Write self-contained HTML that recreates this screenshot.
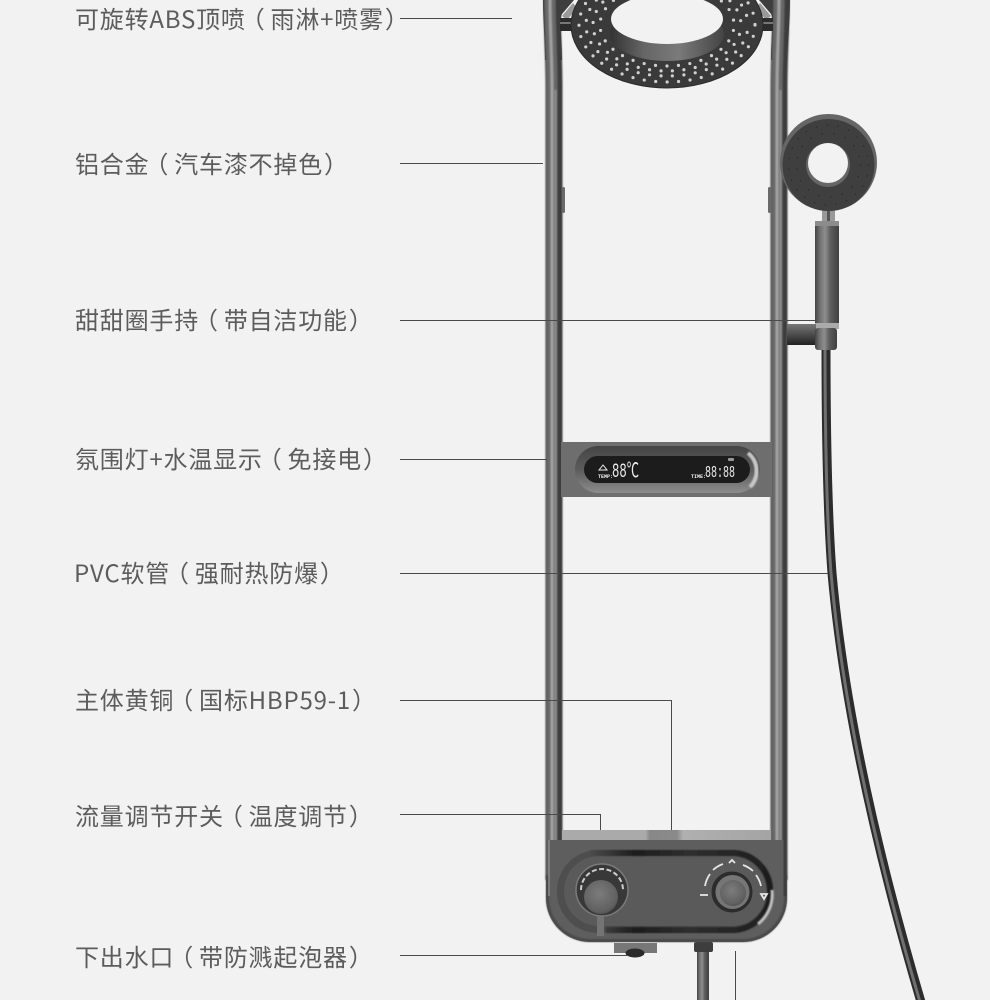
<!DOCTYPE html>
<html lang="zh-CN">
<head>
<meta charset="utf-8">
<title>Shower</title>
<style>
html,body{margin:0;padding:0;background:#f2f2f2;}
body{width:990px;height:1000px;overflow:hidden;position:relative;}
svg{position:absolute;left:0;top:0;}
.t{font-family:"Noto Sans CJK SC","Liberation Sans",sans-serif;font-size:24px;fill:#5c5c5c;font-weight:400;letter-spacing:.8px;}
.l{stroke:#4a4a4a;stroke-width:1;fill:none;}
.d{font-family:"Liberation Mono",monospace;fill:#eee;}
</style>
</head>
<body>
<svg width="990" height="1000" viewBox="0 0 990 1000" xmlns="http://www.w3.org/2000/svg">
<defs>
<filter id="soft" x="-20%" y="-5%" width="140%" height="110%"><feGaussianBlur stdDeviation=".7"/></filter>
<linearGradient id="wall" x1="0" x2="1" y1="0" y2="0">
<stop offset="0" stop-color="#333"/><stop offset=".3" stop-color="#666"/><stop offset=".6" stop-color="#7a7a7a"/><stop offset="1" stop-color="#444"/>
</linearGradient>
<linearGradient id="handle" x1="0" x2="1" y1="0" y2="0">
<stop offset="0" stop-color="#444"/><stop offset=".2" stop-color="#707070"/><stop offset=".42" stop-color="#8e8e8e"/><stop offset=".65" stop-color="#5c5c5c"/><stop offset="1" stop-color="#404040"/>
</linearGradient>
<linearGradient id="conn" x1="0" x2="0" y1="0" y2="1">
<stop offset="0" stop-color="#777"/><stop offset=".4" stop-color="#555"/><stop offset="1" stop-color="#222"/>
</linearGradient>
<linearGradient id="disp" x1="0" x2="0" y1="0" y2="1">
<stop offset="0" stop-color="#444"/><stop offset=".5" stop-color="#5c5c5c"/><stop offset="1" stop-color="#8c8c8c"/>
</linearGradient>
<linearGradient id="strip" x1="0" x2="1" y1="0" y2="0">
<stop offset="0" stop-color="#aaa"/><stop offset=".4" stop-color="#aaa"/><stop offset=".42" stop-color="#888"/><stop offset=".55" stop-color="#8a8a8a"/><stop offset=".58" stop-color="#b0b0b0"/><stop offset="1" stop-color="#a4a4a4"/>
</linearGradient>
<radialGradient id="knob" cx=".45" cy=".4" r=".7">
<stop offset="0" stop-color="#7c7c7c"/><stop offset=".75" stop-color="#606060"/><stop offset="1" stop-color="#444"/>
</radialGradient>
<linearGradient id="band" x1="0" x2="1" y1="0" y2="0">
<stop offset="0" stop-color="#4c4c4c"/><stop offset=".25" stop-color="#1c1c1c"/><stop offset=".55" stop-color="#2e2e2e"/><stop offset="1" stop-color="#1e1e1e"/>
</linearGradient>
</defs>

<!-- hose -->
<path d="M826 345 C826 450 828 520 832 573 C845 720 885 880 921 1002" fill="none" stroke="#2c2c2c" stroke-width="9"/>
<path d="M825 345 C825 450 827 520 831 573 C844 720 884 880 920 1002" fill="none" stroke="#707070" stroke-width="3"/>
<!-- lower pipe -->
<rect x="697" y="948" width="12" height="52" fill="url(#handle)"/>
<rect x="694" y="942" width="19" height="10" rx="2" fill="#3d3d3d"/>

<!-- arch widening -->
<path d="M545 60 C545 40 543 20 543 0 L574 0 L562 14 C559 20 562 40 562 60 Z" fill="#3e3e3e"/>
<path d="M787 60 C788 40 790 20 790 0 L759 0 L771 14 C774 20 771 40 771 60 Z" fill="#3e3e3e"/>
<path d="M562 16 L573 3 L577 8 L567 20 Z" fill="#9a9a9a"/>
<path d="M771 16 L760 3 L756 8 L766 20 Z" fill="#9a9a9a"/>
<!-- rails -->
<g fill="none" filter="url(#soft)">
<path d="M554 880V90C554 55 552 30 552 -2" stroke="#3e3e3e" stroke-width="17"/>
<path d="M552 880V90C552 55 550 30 550 -2" stroke="#686868" stroke-width="11"/>
<path d="M552 880V90C552 55 550 30 550 -2" stroke="#a2a2a2" stroke-width="3"/>
<path d="M555.500 850V90" stroke="#9a9a9a" stroke-width="1.500"/>
<path d="M779 880V90C779 55 781 30 781 -2" stroke="#3e3e3e" stroke-width="17"/>
<path d="M777 880V90C777 55 779 30 779 -2" stroke="#686868" stroke-width="11"/>
<path d="M777 880V90C777 55 779 30 779 -2" stroke="#a2a2a2" stroke-width="3"/>
<path d="M780.500 850V90" stroke="#9a9a9a" stroke-width="1.500"/>
</g>
<rect x="562" y="187" width="3" height="26" rx="1.500" fill="#6a6a6a"/>
<rect x="768" y="187" width="3" height="26" rx="1.500" fill="#6a6a6a"/>
<rect x="560" y="18" width="14" height="13" fill="#2c2c2c"/>
<rect x="760" y="18" width="13" height="13" fill="#2c2c2c"/>
<rect x="560" y="22" width="14" height="2" fill="#777"/>
<rect x="760" y="22" width="13" height="2" fill="#777"/>

<!-- head -->
<ellipse cx="667" cy="25" rx="96" ry="63" fill="#3a3a3a" stroke="#2a2a2a" stroke-width="1"/>
<g fill="none" stroke="#d0d0d0" stroke-width="3.200" stroke-linecap="round">
<ellipse cx="667" cy="25" rx="88" ry="57" stroke-dasharray="0 11.500"/>
<ellipse cx="667" cy="25" rx="81" ry="51" stroke-dasharray="0 11.500" stroke-dashoffset="4"/>
<ellipse cx="667" cy="25" rx="74" ry="46" stroke-dasharray="0 11.500" stroke-dashoffset="2"/>
<ellipse cx="667" cy="25" rx="67" ry="41" stroke-dasharray="0 11.500" stroke-dashoffset="6"/>
</g>
<ellipse cx="667" cy="34" rx="57" ry="27" fill="url(#wall)"/>
<ellipse cx="667" cy="19" rx="56" ry="25" fill="#f2f2f2"/>

<!-- hand shower -->
<rect x="822" y="210" width="13" height="13" fill="#999"/>
<rect x="827" y="210" width="3" height="13" fill="#555"/>
<circle cx="828.500" cy="162.500" r="48.500" fill="#666"/>
<circle cx="828.500" cy="165" r="46" fill="#3f3f3f"/>
<g fill="none" stroke="#2a2a2a" stroke-width="1.500" stroke-linecap="round">
<circle cx="828.500" cy="165" r="40" stroke-dasharray="0 11"/>
<circle cx="828.500" cy="165" r="32" stroke-dasharray="0 12"/>
</g>
<circle cx="828" cy="165" r="22" fill="#666"/>
<circle cx="828" cy="163" r="20" fill="#f2f2f2"/>
<!-- handle -->
<rect x="815" y="222" width="24" height="102" fill="url(#handle)"/>
<rect x="815" y="221" width="24" height="5" fill="#8c8c8c"/>
<rect x="815" y="323" width="24" height="6" fill="#aaa"/>
<rect x="787" y="324" width="29" height="21" fill="url(#conn)"/>
<rect x="815" y="328" width="22" height="22" rx="3" fill="url(#handle)"/>

<!-- display bar -->
<rect x="561" y="442" width="211" height="55" fill="#6e6e6e"/>
<rect x="575" y="446" width="185" height="47" rx="23.500" fill="url(#disp)"/>
<path d="M748 453 A23 23 0 0 1 750 487" fill="none" stroke="#c8c8c8" stroke-width="4" filter="url(#soft)"/>
<rect x="584" y="456" width="166" height="27" rx="13.500" fill="#1c1c1c"/>
<path d="M599 470 L603 465 L607 470 Z" fill="none" stroke="#eee" stroke-width="1"/>
<text class="d" x="598" y="478" font-size="5" font-weight="700">TEMP:</text>
<text class="d" x="612" y="477" font-size="20" textLength="27" lengthAdjust="spacingAndGlyphs">88℃</text>
<text class="d" x="691" y="478" font-size="5" font-weight="700">TIME:</text>
<text class="d" x="705" y="477" font-size="17" textLength="30" lengthAdjust="spacingAndGlyphs">88:88</text>
<rect x="728" y="458" width="6" height="3" rx="1" fill="#999"/>

<!-- bottom panel -->
<rect x="562" y="830" width="209" height="11" fill="url(#strip)"/>
<path d="M546 840 H787 V898 A44 44 0 0 1 743 942 H590 A44 44 0 0 1 546 898 Z" fill="#5e5e5e"/>
<path d="M547.500 875 V898 A42.500 42.500 0 0 0 590 940.500 H743 A42.500 42.500 0 0 0 785.500 898 V875" fill="none" stroke="#484848" stroke-width="3" filter="url(#soft)"/>
<path d="M549 840 V896" fill="none" stroke="#8a8a8a" stroke-width="1.500"/>
<path d="M785 840 V896" fill="none" stroke="#3e3e3e" stroke-width="3"/>
<rect x="557" y="850" width="216" height="83" rx="41" fill="#4e4e4e"/>
<rect x="564" y="856" width="203" height="70" rx="35" fill="#5a5a5a"/>
<path d="M590 853 H735 A38 38 0 0 1 770 890 A38 38 0 0 1 735 930 H606" fill="none" stroke="url(#band)" stroke-width="6" filter="url(#soft)"/>
<path d="M640 929 H735" fill="none" stroke="#6a6a6a" stroke-width="4" filter="url(#soft)"/>
<path d="M772 890 A38 38 0 0 1 758 924" fill="none" stroke="#c4c4c4" stroke-width="3" filter="url(#soft)"/>

<!-- left knob -->
<rect x="597" y="912" width="7" height="24" fill="#747474"/>
<circle cx="602" cy="890" r="26" fill="#383838" stroke="#7a7a7a" stroke-width="1.500"/>
<path d="M581 890 A21 21 0 0 1 623 890" fill="none" stroke="#ccc" stroke-width="2" stroke-dasharray="5 2.500"/>
<circle cx="601" cy="897" r="17" fill="url(#knob)"/>
<!-- right knob -->
<g fill="none" stroke="#e6e6e6" stroke-width="1.800">
<path d="M705 886 A29 29 0 0 1 710 874"/>
<path d="M713 870 A29 29 0 0 1 723 864"/>
<path d="M743 865 A29 29 0 0 1 753 871"/>
<path d="M756 875 A29 29 0 0 1 761 886"/>
<path d="M729 863 L732 860 L735 863"/>
<path d="M761 894 H767 L764 899 Z"/>
<path d="M700 895 H708"/>
</g>
<circle cx="732" cy="892" r="21" fill="#2c2c2c" stroke="#5a5a5a" stroke-width="1"/>
<circle cx="732.500" cy="892" r="17" fill="#767676"/>
<circle cx="733" cy="893" r="13" fill="url(#knob)"/>

<!-- bottom bracket -->
<rect x="614" y="943" width="43" height="10" fill="#777"/>
<ellipse cx="635" cy="953" rx="9.500" ry="4.500" fill="#2a2a2a"/>

<!-- leader lines -->
<path class="l" d="M400 18.500H512"/>
<path class="l" d="M400 163.500H543"/>
<path class="l" d="M400 320.500H815"/>
<path class="l" d="M400 459.500H547"/>
<path class="l" d="M400 573.500H828"/>
<path class="l" d="M400 700.500H671.500V830"/>
<path class="l" d="M400 814.500H600.500V830"/>
<path class="l" d="M400 955.500H628"/>
<path class="l" d="M735.500 951V1000"/>

<!-- labels: parens nudged to the centre of their em box -->
<text class="t" x="75" y="28">可旋转ABS顶喷<tspan dx="-5">（</tspan><tspan dx="5">雨</tspan>淋+喷雾<tspan dx="1">）</tspan></text>
<text class="t" x="75" y="173">铝合金<tspan dx="-5">（</tspan><tspan dx="5">汽</tspan>车漆不掉色<tspan dx="1">）</tspan></text>
<text class="t" x="75" y="329">甜甜圈手持<tspan dx="-5">（</tspan><tspan dx="5">带</tspan>自洁功能<tspan dx="1">）</tspan></text>
<text class="t" x="75" y="468">氛围灯+水温显示<tspan dx="-5">（</tspan><tspan dx="5">免</tspan>接电<tspan dx="1">）</tspan></text>
<text class="t" x="74" y="582">PVC软管<tspan dx="-5">（</tspan><tspan dx="5">强</tspan>耐热防爆<tspan dx="1">）</tspan></text>
<text class="t" x="75" y="709">主体黄铜<tspan dx="-5">（</tspan><tspan dx="5">国</tspan>标HBP59-1<tspan dx="1">）</tspan></text>
<text class="t" x="75" y="825">流量调节开关<tspan dx="-5">（</tspan><tspan dx="5">温</tspan>度调节<tspan dx="1">）</tspan></text>
<text class="t" x="75" y="966">下出水口<tspan dx="-5">（</tspan><tspan dx="5">带</tspan>防溅起泡器<tspan dx="1">）</tspan></text>
</svg>
</body>
</html>
